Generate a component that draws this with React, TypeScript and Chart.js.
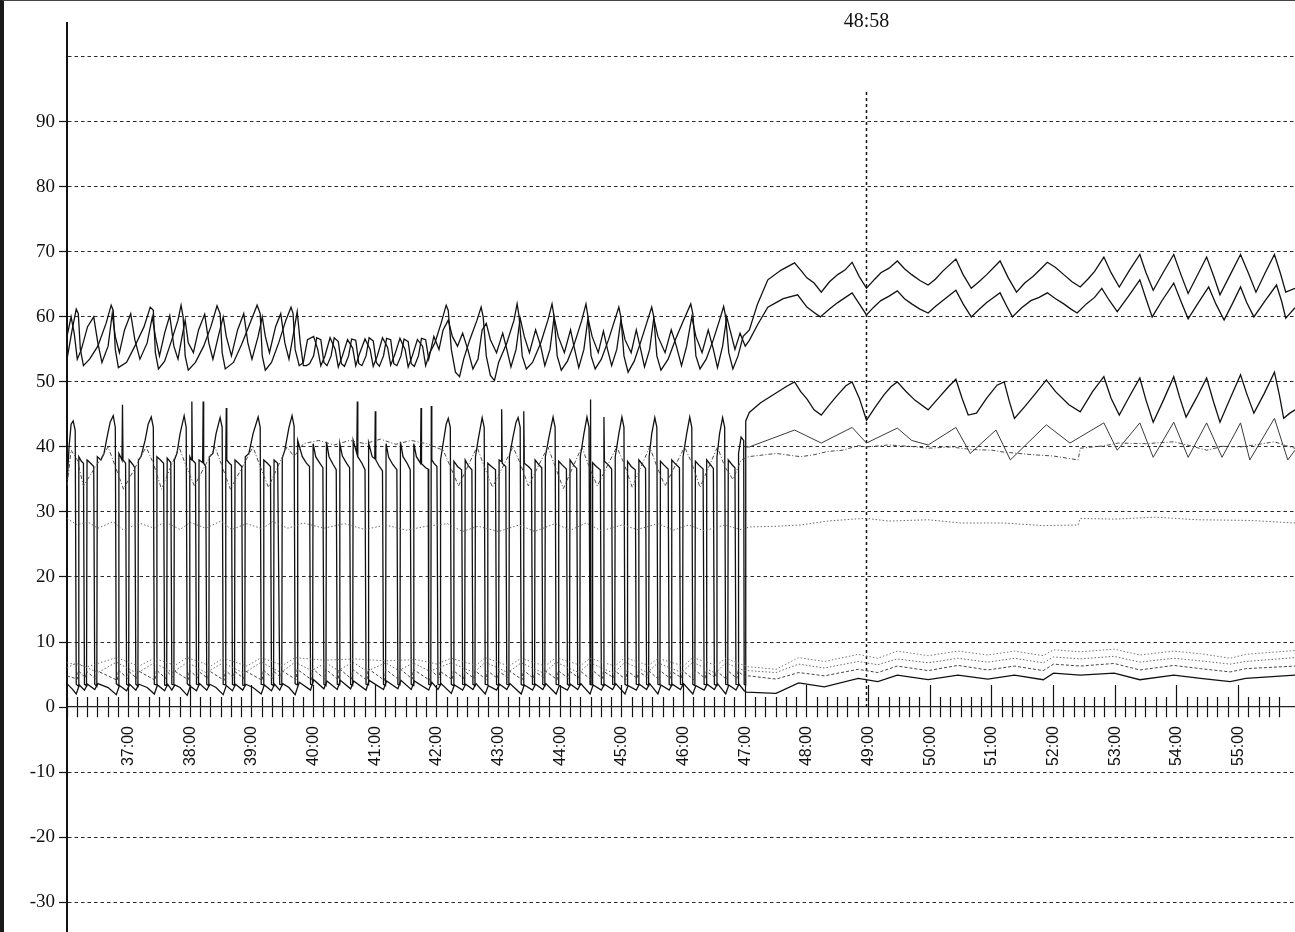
import React, { useEffect, useRef } from 'react';
import { Chart, registerables } from 'chart.js';

Chart.register(...registerables);

type P = [number, number];

// x values are seconds after 36:00
const START_MINUTE = 36;
const X_MIN = 0;
const X_MAX = 1195;
const Y_MIN = -34.6;
const Y_MAX = 105.2;
const Y_STEP = 10;
const Y_HIDDEN_LABEL = 100;
const CURSOR_SEC = 778;
const CURSOR_LABEL = '48:58';

const upperA: P[] = [
  [0,53.5],[5,58],[9,61.2],[11,60.5],[13,55],[16,52.5],[22,53.5],[30,55.5],[38,59],[43,61.8],[45,61],[47,55],[50,52.2],
  [58,53],[66,55.5],[75,58.5],[81,61.5],[84,61],[86,54.5],[89,52],[95,53.2],[101,56],[108,59.5],[111,61.8],[113,60],[115,54],[118,51.8],
  [125,53],[133,55.5],[140,58.5],[146,61.7],[149,60.5],[151,54.5],[154,52],[162,53],[170,55.8],[178,59],[185,61.8],[188,60.5],[190,54],[193,51.8],
  [199,53],[206,56],[213,59.5],[218,61.5],[220,60.5],[222,55],[226,52.5],
  [230,53],[234,56.5],[240,57],[244,55],[247,52.5],[251,54],[256,56.8],[261,55],[264,52.3],[268,54],[273,56.5],[278,55.2],[281,52.5],
  [285,54.5],[290,56.6],[295,55],[298,52.4],[302,54],[307,56.8],[312,55.3],[315,52.6],[319,54.2],[324,56.7],[329,55],[332,52.3],
  [336,54],[341,56.5],[346,55.5],[349,52.5],[353,54.5],
  [358,56],[364,59],[369,61.8],[371,61],[374,55],[378,51.5],[382,50.8],[386,53.5],[392,56.5],[399,59.5],[403,61.5],[405,60],[408,54],[412,51],[416,50.2],
  [420,53],[428,56],[435,59.5],[438,62],[440,60],[443,54],[447,52],[453,53],[461,56],[468,59.5],[472,62],[474,60],[477,54],[481,51.8],
  [487,53.2],[494,56],[501,59.5],[505,62],[507,60],[510,54],[514,52],[520,53.5],[527,56.5],[533,59.5],[537,61.5],[539,60],[542,54],[546,51.5],
  [552,53.2],[559,56.5],[565,59.5],[569,61.5],[571,60],[574,54],[578,51.8],[585,53.5],[592,56.5],[600,59.5],[607,62],[609,60.5],[612,54],[616,52],
  [622,53.5],[629,56.5],[635,59.5],[639,61.6],[641,60],[644,54.5],[648,52],[653,54],[658,57],
  [664,58],[672,62],[682,65.7],[695,67.2],[708,68.3],[714,67.2],[720,66],[727,65.2],[734,63.8],[742,65.4],[750,66.5],[757,67.2],[764,68.4],
  [771,66.2],[778,64.4],[786,65.8],[792,66.8],[800,67.5],[808,68.6],[815,67.4],[822,66.5],[830,65.6],[838,64.9],[845,65.8],[852,67],[865,68.9],
  [872,66.5],[880,64.4],[888,65.5],[895,66.5],[908,68.6],[916,66],[924,63.8],[932,65.2],[940,66.2],[947,67.3],[954,68.4],[962,67.6],[970,66.5],
  [978,65.4],[986,64.6],[994,65.9],[1000,67],[1009,69.2],[1016,66.8],[1024,64.6],[1034,67.2],[1044,69.6],[1050,66.8],[1057,64.1],[1067,66.9],
  [1077,69.6],[1084,66.5],[1091,63.6],[1100,66.4],[1109,69.2],[1116,66.2],[1122,63.4],[1132,66.5],[1142,69.6],[1150,66.6],[1157,63.8],
  [1166,66.8],[1175,69.6],[1181,66.6],[1186,63.8],[1195,64.4],
];

const upperB: P[] = [
  [0,57],[4,60],[7,57.5],[10,53.5],[14,55],[20,58.5],[26,60],[30,56],[34,53],[40,55.5],[44,60.5],[47,57],[51,54.5],[56,58],[62,60.5],[66,56.5],
  [71,53.5],[78,56],[83,60],[86,57],[90,54],[95,57.5],[100,60.2],[104,55.5],[108,53.5],[112,57],[115,59.5],[118,56],[123,54.5],[128,58],[134,60.4],
  [138,56],[142,53.5],[148,57.5],[152,60],[155,57],[160,54],[166,58],[172,60.5],[176,56],[180,53.5],[186,57],[190,60],[193,57],[197,54.5],
  [203,58.5],[208,60.5],[212,56],[216,53.5],[221,58],[224,60.8],[227,56],[230,52.5],
  [233,52.5],[236,52.8],[240,54],[243,56.8],[247,56.5],[250,53],[253,52.5],[257,54],[260,56.8],[264,56.2],[267,52.8],[270,52.4],[274,54],
  [277,56.6],[281,56.4],[284,52.8],[287,52.5],[291,54],[294,56.8],[298,56.3],[301,53],[304,52.4],[308,54],[311,56.7],[315,56.5],[318,52.8],
  [321,52.5],[325,54],[328,56.6],[332,56.2],[335,52.8],[338,52.4],[342,54],[345,56.7],[349,56.5],[352,53.5],
  [357,57],[362,55],[366,58],[371,59.5],[375,57],[380,55.5],[385,57.5],[390,55],[395,52],[400,53.5],[404,58],[408,59],[412,56.5],[418,54.5],
  [424,57.5],[428,55],[432,52.3],[437,55],[441,59.8],[445,57],[450,54.5],[456,58],[461,55.5],[465,52.5],[470,55],[474,60],[478,57],[484,54.5],
  [490,58],[494,55],[498,52.2],[503,55],[507,59.8],[511,57],[517,54.5],[522,57.8],[526,55],[530,52.5],[535,55],[539,59.5],[543,56.5],[549,54.5],
  [554,58],[558,55.2],[562,52.3],[567,55],[571,59.8],[575,57],[582,54.5],[588,58],[593,55.5],[598,52.5],[603,55.5],[608,60],[612,57],[618,54.5],
  [624,58],[629,55],[633,52.2],[638,55.5],[642,60],[646,57.5],[650,55],[655,57.5],[660,55.5],
  [664,56.4],[672,58.8],[682,61.5],[690,62.2],[697,62.8],[711,63.4],[720,61.5],[726,60.8],[733,60],[742,61.2],[750,62.2],[764,63.7],[771,62],
  [778,60.3],[785,61.5],[792,62.5],[800,63.2],[808,64],[815,62.8],[822,62],[830,61.2],[838,60.6],[845,61.6],[852,62.5],[865,64.1],[872,62],
  [880,60],[888,61.2],[895,62.2],[908,63.7],[914,61.8],[920,60],[929,61.4],[938,62.5],[946,63],[954,63.7],[962,62.8],[970,62],[977,61.2],
  [983,60.6],[992,62],[1000,63],[1007,64.4],[1014,62.6],[1022,60.8],[1033,63.2],[1044,65.7],[1050,62.8],[1056,60],[1066,62.6],[1077,65.2],
  [1084,62.4],[1091,59.7],[1101,62.2],[1111,64.6],[1118,62],[1126,59.5],[1134,62],[1142,64.6],[1148,62.2],[1155,60],[1166,62.5],[1177,64.9],
  [1182,62.4],[1186,59.8],[1195,61.4],
];

const pressureTrace: P[] = [
  [0,34],[2,40],[4,43.5],[6,44],[8,42.5],[9,3.5],[11,3.2],[11.5,38.5],[14,37.8],[16,37.5],[17,3.5],[19,3.3],[19.5,38],[23,37.5],[26,37],
  [27,3.5],[29,3.2],[29.5,38.5],[33,38],[36,39],[39,41.5],[42,43.8],[45,44.8],[47,43],[48,3.6],[50,3.3],[50.5,39],[53,38.2],[53.5,38],
  [54,46.5],[54.5,38],[57,37.5],[58,3.5],[60,3.3],[60.5,38],[64,37.3],[66,36.8],[67,3.5],[69,3.2],[69.5,38],[72,38.5],[76,41],[79,43.5],
  [82,44.6],[84,43],[85,3.5],[87,3.4],[87.5,38.5],[91,38],[94,37.5],[95,3.4],[97,3.3],[97.5,38.3],[101,37.6],[102,3.5],[104,3.4],[104.5,38],
  [107,39],[110,42],[114,44.8],[116,43],[117,3.6],[119,3.3],[119.5,38.5],[121,38],[121.5,47],[122,38],[125,37.5],[126,3.5],[128,3.4],
  [128.5,38],[132,37.6],[132.5,47],[133,37.5],[135,37],[136,3.5],[138,3.3],[138.5,38.5],[142,39],[145,42],[149,44.5],[151,43],[152,3.5],
  [154,3.4],[154.5,38],[155,46],[155.5,38],[158,37.5],[160,37.2],[161,3.5],[163,3.3],[163.5,38],[167,37.5],[170,37],[171,3.4],[173,3.3],
  [173.5,38.5],[177,39],[181,42],[186,44.6],[188,43],[189,3.5],[191,3.4],[191.5,38],[195,37.5],[198,37],[199,3.5],[201,3.3],[201.5,38],
  [205,37.5],[207,3.5],[209,3.4],[209.5,38.3],[212,39.5],[216,43],[219,44.8],[221,43.2],[222,3.6],[224,3.4],[224.5,41],
  [229,38.5],[233,37.5],[236,37],[237,3.5],[239,3.4],[239.5,40.5],[242,38.5],[246,37.5],[249,36.8],[250,3.5],[252,3.3],[252.5,40.8],
  [255,38.5],[259,37.3],[262,36.5],[263,3.5],[265,3.4],[265.5,40.5],[268,38.6],[272,37.5],[275,36.8],[276,3.5],[278,3.3],[278.5,41],
  [282,39],[282.5,47],[283,38.5],[287,37.5],[290,36.5],[291,3.5],[293,3.4],[293.5,40.6],[297,38.5],[299.5,38.2],[300,45.5],[300.5,38],
  [304,37],[307,36.3],[308,3.5],[310,3.3],[310.5,40.5],[313,38.4],[317,37.3],[321,36.5],[322,3.5],[324,3.4],[324.5,40.8],[327,38.5],
  [331,37.5],[334,36.5],[335,3.5],[337,3.3],[337.5,40.5],[340,38.5],[344,37.5],[344.5,46],[345,37.4],[349,36.8],[351.5,36.6],[352,3.5],
  [354,3.4],[354.5,46.3],[355,38],[357,37.5],[360,37],[361,3.5],[363,3.4],[363.5,38],[366,40.5],[369,43.5],[371,44.4],[373,43],[374,3.5],
  [376,3.3],[376.5,37.8],[380,37],[384,36.5],[385,3.5],[387,3.4],[387.5,38],[391,37],[394,36.5],[395,3.5],[397,3.3],[397.5,38.5],[400,41],
  [404,44.5],[406,43],[407,3.5],[409,3.4],[409.5,37.5],[413,37],[417,36.5],[418,3.5],[420,3.3],[420.5,38],[422.5,37.8],[423,45.8],
  [423.5,37.5],[427,37],[428,3.5],[430,3.4],[430.5,38.5],[434,41.5],[437,43.8],[439,44.5],[441,43],[442,3.5],[444,3.3],[444.5,45.5],
  [445,37.5],[449,37],[452,36.5],[453,3.5],[455,3.4],[455.5,38],[459,37.3],[462,36.8],[463,3.5],[465,3.3],[465.5,38.5],[469,41.5],
  [473,44.6],[475,43],[476,3.5],[478,3.4],[478.5,37.8],[482,37.2],[486,36.6],[487,3.5],[489,3.3],[489.5,38],[493,37.2],[496,36.7],
  [497,3.5],[499,3.4],[499.5,38.5],[503,42],[506,44.6],[508,43],[509,3.5],[509.5,47.3],[510,3.4],[511,3.4],[511.5,37.6],[515,37],
  [519,36.5],[520,3.5],[522,3.3],[522.5,44.6],[523,37.8],[527,37.2],[530,36.6],[531,3.5],[533,3.4],[533.5,38.5],[537,42],[540,44.6],
  [542,43],[543,3.5],[545,3.3],[545.5,37.8],[549,37],[553,36.5],[554,3.5],[556,3.4],[556.5,38],[560,37.3],[563,36.7],[564,3.5],[566,3.3],
  [566.5,38.5],[569,42],[572,44.5],[574,43],[575,3.5],[577,3.4],[577.5,37.8],[581,37.2],[585,36.6],[586,3.5],[588,3.3],[588.5,38],
  [592,37.4],[596,36.8],[597,3.5],[599,3.4],[599.5,38.5],[603,42],[606,44.6],[608,43],[609,3.5],[611,3.3],[611.5,37.8],[615,37.2],
  [619,36.6],[620,3.5],[622,3.4],[622.5,38],[626,37.3],[629,36.7],[630,3.5],[632,3.3],[632.5,38.5],[635,42],[638,44.5],[640,43],[641,3.5],
  [643,3.4],[643.5,38],[647,37.3],[650,36.8],[651,3.5],[653,3.4],[653.5,39],[656,41.5],[658.5,41],[659,3.5],[660,3.4],[660.5,44],
  [664,45.3],[675,46.8],[690,48.3],[700,49.3],[708,50],[714,48.5],[720,47.4],[727,45.7],[734,44.9],[742,46.5],[750,48],[758,49.4],[764,50],
  [771,47.5],[778,44.1],[786,46],[795,48],[802,49.3],[808,50],[816,48.6],[825,47.2],[838,45.7],[848,47.5],[858,49.3],[865,50.4],[871,47.5],
  [877,44.9],[885,45.2],[895,47.5],[905,49.5],[912,50],[917,47],[922,44.4],[932,46.2],[944,48.5],[953,50.3],[962,48.5],[975,46.5],[986,45.4],
  [998,48.5],[1009,50.8],[1016,47.5],[1024,44.9],[1034,47.8],[1044,50.6],[1050,47.2],[1057,43.8],[1067,47.2],[1077,50.8],[1083,47.5],
  [1089,44.6],[1099,47.5],[1109,50.6],[1116,46.8],[1122,43.8],[1132,47.5],[1142,51.1],[1148,48.2],[1155,45.2],[1165,48.2],[1175,51.5],
  [1180,47.8],[1184,44.4],[1190,45.2],[1195,45.7],
];

const thinTrace: P[] = [
  [660,40],[664,40],[708,42.6],[734,40.6],[764,43],[778,40.6],[808,42.9],[822,41],[838,40.3],[865,43],[879,39],[904,42.6],[918,38],
  [953,43.4],[976,40.6],[1009,43.7],[1022,39.5],[1044,43.7],[1057,38.4],[1077,43.8],[1091,38.4],[1109,43.7],[1124,38.4],[1142,43.7],
  [1151,38],[1175,44.4],[1188,38],[1195,39.5],
];

const dashTrace: P[] = [
  [0,34],[4,39.5],[10,38],[16,34],[40,40],[47,37],[55,33.5],[77,40],[84,37.5],[92,33.5],[109,40],[116,37],[124,34],[144,40],[151,37],
  [159,33.5],[181,40],[188,37],[196,33.8],[214,40],[221,38.5],[230,40.5],[245,41],[260,40.3],[275,41],[290,40.5],[305,41.2],[320,40.4],
  [335,41],[350,40.5],[366,39.5],[373,37],[381,34],[399,40],[406,37],[414,33.8],[434,40],[441,37.5],[449,34],[468,40],[475,37],[483,33.6],
  [501,40],[508,37],[516,34],[535,40],[542,37.5],[550,33.8],[567,40],[574,37],[582,34],[601,40],[608,37.5],[616,33.8],[633,40],[640,37],
  [648,35],[656,38],[663,38.5],[690,39],[714,38.5],[727,38.8],[740,39.3],[755,39.5],[770,40.2],[778,40],[800,40.3],[820,40.1],[838,39.8],
  [860,40],[880,39.6],[900,39.5],[912,39.2],[940,38.8],[960,38.6],[984,38],[986,39.8],[1010,40.2],[1023,40.6],[1050,40.5],[1077,40.8],
  [1090,40.3],[1109,39.5],[1125,40.1],[1142,40],[1160,40.4],[1175,40.8],[1186,40.2],[1195,39.8],
];

const dottedTrace: P[] = [
  [0,29],[10,28],[20,28.5],[30,27.5],[45,28.5],[55,27.2],[70,28.3],[85,27.5],[95,28.5],[110,27.3],[120,28.4],[135,27.5],[150,28.6],
  [160,27.3],[175,28.2],[190,27.4],[200,28.5],[215,27.5],[230,28.3],[250,27.5],[270,28.2],[290,27.3],[310,28],[330,27.2],[350,27.8],
  [370,28.2],[385,27],[400,27.8],[420,27],[440,28],[455,27],[475,28.2],[490,27.2],[505,28.3],[520,27.1],[540,28],[555,27.3],[575,28.2],
  [590,27.2],[605,28],[620,27.1],[640,28],[655,27.3],[665,27.7],[690,27.8],[714,28],[740,28.6],[765,28.9],[778,29],[800,28.6],[838,28.8],
  [870,28.3],[912,28.3],[950,27.9],[984,28],[986,29],[1020,28.9],[1060,29.2],[1100,28.8],[1150,28.7],[1195,28.3],
];

const baseSolid: P[] = [
  [0,3.6],[5,2.8],[9,2],[12,3.4],[17,2.6],[20,3.5],[27,2.7],[30,3.6],[40,3],[48,1.9],[51,3.3],[58,2.5],[61,3.5],[67,2.6],[70,3.5],[78,3],
  [85,2],[88,3.4],[95,2.5],[98,3.5],[102,2.6],[105,3.4],[110,3],[117,1.8],[120,3.2],[126,2.5],[129,3.6],[136,2.6],[139,3.5],[145,3],
  [152,1.9],[155,3.3],[161,2.5],[164,3.5],[171,2.6],[174,3.5],[181,3],[189,2],[192,3.4],[199,2.5],[202,3.5],[207,2.6],[210,3.6],[216,3],
  [222,1.9],[226,3.8],[237,2.6],[240,4.2],[250,2.8],[253,4],[263,2.7],[266,4.1],[276,2.8],[279,4],[291,2.6],[294,4.1],[308,2.7],[311,4],
  [322,2.8],[325,4.1],[335,2.7],[338,4],[352,2.6],[355,3.8],[361,2.7],[364,3.6],[374,2.1],[377,3.4],[385,2.6],[388,3.5],[395,2.7],[398,3.6],
  [407,2],[410,3.3],[418,2.6],[421,3.5],[428,2.7],[431,3.6],[442,2],[445,3.4],[453,2.6],[456,3.5],[463,2.7],[466,3.6],[476,2],[479,3.3],
  [487,2.6],[490,3.5],[497,2.7],[500,3.6],[509,2],[512,3.4],[520,2.6],[523,3.5],[531,2.7],[534,3.6],[543,2],[546,3.3],[554,2.6],[557,3.5],
  [564,2.7],[567,3.6],[575,2],[578,3.4],[586,2.6],[589,3.5],[597,2.7],[600,3.6],[609,2],[612,3.3],[620,2.6],[623,3.5],[630,2.7],[633,3.6],
  [641,2],[644,3.4],[651,2.6],[654,3.5],[659,2.5],[661,2.3],[690,2.1],[712,3.7],[737,3.1],[770,4.4],[789,3.9],[808,4.9],[838,4.2],[867,4.9],
  [896,4.3],[922,4.9],[950,4.2],[960,5.2],[986,4.9],[1019,5.2],[1044,4.2],[1077,4.9],[1103,4.4],[1132,3.9],[1147,4.4],[1195,4.9],
];

const baseDash: P[] = [
  [0,4.8],[10,4.3],[11,5.6],[18,4.5],[19,5.5],[28,4.3],[29,5.6],[49,4.1],[50,5.7],[59,4.4],[60,5.5],[68,4.4],[69,5.6],[86,4.1],[87,5.7],
  [96,4.4],[97,5.5],[103,4.6],[104,5.6],[118,4.2],[119,5.7],[127,4.5],[128,5.5],[137,4.4],[138,5.6],[153,4.1],[154,5.7],[162,4.5],[163,5.5],
  [172,4.4],[173,5.6],[190,4.1],[191,5.7],[200,4.4],[201,5.5],[208,4.6],[209,5.6],[223,4.2],[224,5.8],[238,4.2],[239,5.9],[251,4.3],[252,5.8],
  [264,4.2],[265,5.9],[277,4.3],[278,5.8],[292,4.1],[293,5.9],[309,4.1],[310,5.8],[323,4.2],[324,5.9],[336,4.3],[337,5.8],[353,4.1],[354,5.7],
  [362,4.5],[363,5.5],[375,4.2],[376,5.6],[386,4.4],[387,5.5],[396,4.4],[397,5.6],[408,4.2],[409,5.6],[419,4.4],[420,5.5],[429,4.5],[430,5.6],
  [443,4.2],[444,5.7],[454,4.4],[455,5.5],[464,4.5],[465,5.6],[477,4.2],[478,5.6],[488,4.4],[489,5.5],[498,4.5],[499,5.6],[510,4.2],[511,5.7],
  [521,4.4],[522,5.5],[532,4.5],[533,5.6],[544,4.2],[545,5.6],[555,4.4],[556,5.5],[565,4.5],[566,5.6],[576,4.2],[577,5.6],[587,4.4],[588,5.5],
  [598,4.5],[599,5.6],[610,4.2],[611,5.7],[621,4.4],[622,5.5],[631,4.5],[632,5.6],[642,4.2],[643,5.6],[652,4.4],[653,5.5],[660,4.6],
  [663,4.8],[690,4.3],[712,5.3],[737,4.8],[770,5.8],[789,5.3],[808,6.3],[838,5.6],[867,6.4],[896,5.7],[922,6.3],[950,5.6],[960,6.6],
  [986,6.3],[1019,6.7],[1044,5.7],[1077,6.4],[1103,5.9],[1132,5.4],[1147,5.9],[1195,6.3],
];

const baseDot1: P[] = [
  [0,6],[9,6.8],[30,5.3],[48,6.9],[68,5.2],[85,6.8],[103,5.3],[117,6.9],[135,5.3],[152,6.8],[172,5.2],[189,6.9],[208,5.3],[222,6.9],
  [238,5.6],[252,6.8],[264,5.6],[278,6.9],[292,5.5],[310,6.8],[323,5.6],[337,6.8],[353,5.5],[374,6.8],[396,5.3],[407,6.9],[429,5.3],
  [442,6.8],[464,5.2],[476,6.9],[498,5.3],[509,6.8],[532,5.2],[543,6.9],[565,5.3],[575,6.8],[598,5.3],[609,6.9],[631,5.2],[641,6.8],
  [659,5.6],[663,5.6],[690,5.3],[712,6.6],[737,6],[770,7],[789,6.5],[808,7.4],[838,6.8],[867,7.5],[896,6.9],[922,7.5],[950,6.8],[960,7.7],
  [986,7.4],[1019,7.8],[1044,6.9],[1077,7.5],[1103,7.1],[1132,6.6],[1147,7],[1195,7.6],
];

const baseDot2: P[] = [
  [0,6.8],[20,6.2],[48,7.6],[70,6.3],[85,7.5],[105,6.4],[117,7.6],[140,6.3],[152,7.5],[175,6.3],[189,7.6],[210,6.4],[222,7.6],[250,7.2],
  [280,7.4],[310,7.1],[340,7.3],[360,6.6],[374,7.5],[398,6.4],[407,7.6],[430,6.3],[442,7.5],[465,6.3],[476,7.6],[500,6.4],[509,7.5],
  [533,6.3],[543,7.6],[566,6.4],[575,7.5],[600,6.3],[609,7.6],[632,6.4],[641,7.5],[659,6.4],[663,6.2],[690,5.8],[712,7.6],[737,7],
  [770,8.1],[789,7.5],[808,8.6],[838,7.9],[867,8.6],[896,8],[922,8.6],[950,7.9],[960,8.8],[986,8.5],[1019,8.9],[1044,8],[1077,8.6],
  [1103,8.2],[1132,7.5],[1147,8.1],[1195,8.7],
];

const cursorLine: P[] = [[CURSOR_SEC, 0], [CURSOR_SEC, 95]];

const fmtMinute = (v: number) => `${START_MINUTE + v / 60}:00`;
const isMult = (v: number, m: number) => Math.abs(v / m - Math.round(v / m)) < 1e-6;

function ds(points: P[], color: string, width: number, dash: number[] = []) {
  return {
    data: points.map(([x, y]) => ({ x, y })),
    borderColor: color,
    backgroundColor: color,
    borderWidth: width,
    borderDash: dash,
    pointRadius: 0,
    fill: false,
    tension: 0,
    xAxisID: 'x',
    yAxisID: 'y',
  };
}

export default function App() {
  const ref = useRef<HTMLCanvasElement | null>(null);

  useEffect(() => {
    if (!ref.current) return;
    const zeroPad = (s: any) => { s.paddingLeft = 0; s.paddingRight = 0; s.paddingTop = 0; s.paddingBottom = 0; };
    const chart = new Chart(ref.current, {
      type: 'line',
      data: {
        datasets: [
          ds(dottedTrace, '#6a6a6a', 1, [1.5, 2]),
          ds(dashTrace, '#4a4a4a', 1, [4, 2, 1, 2]),
          ds(thinTrace, '#3a3a3a', 1),
          ds(baseDot2, '#777', 1, [1.5, 2]),
          ds(baseDot1, '#666', 1, [1.5, 2]),
          ds(baseDash, '#444', 1, [3, 2]),
          ds(baseSolid, '#111', 1.3),
          ds(upperB, '#111', 1.3),
          ds(upperA, '#111', 1.3),
          ds(pressureTrace, '#111', 1.3),
          ds(cursorLine, '#111', 1.5, [3, 3]),
        ] as any,
      },
      options: {
        animation: false,
        responsive: false,
        maintainAspectRatio: false,
        devicePixelRatio: 1,
        events: [],
        layout: { padding: { top: 23, left: 0, right: 0, bottom: 0 } },
        plugins: { legend: { display: false }, tooltip: { enabled: false }, title: { display: false } },
        elements: { point: { radius: 0 }, line: { tension: 0 } },
        scales: {
          y: {
            type: 'linear',
            position: 'left',
            min: Y_MIN,
            max: Y_MAX,
            ticks: {
              stepSize: Y_STEP,
              autoSkip: false,
              padding: 4,
              color: '#111',
              font: { family: 'Liberation Serif', size: 19 },
              callback: (v: any) => (isMult(v, Y_STEP) && v !== Y_HIDDEN_LABEL ? String(Math.round(v)) : ''),
            },
            grid: {
              color: (c: any) => (c.tick && isMult(c.tick.value, Y_STEP) && c.tick.value !== 0 ? '#2a2a2a' : 'transparent'),
              lineWidth: 1,
              drawTicks: true,
              tickLength: 8,
              tickWidth: 1.2,
              tickColor: (c: any) => (c.tick && isMult(c.tick.value, Y_STEP) && c.tick.value !== Y_HIDDEN_LABEL ? '#111' : 'transparent'),
            },
            border: { display: true, color: '#111', width: 2, dash: [3.5, 3] },
            afterFit: (s: any) => { s.width = 67; s.paddingTop = 0; s.paddingBottom = 0; },
          },
          x: {
            type: 'linear',
            axis: 'x',
            position: { y: 0 },
            min: X_MIN,
            max: X_MAX,
            ticks: {
              stepSize: 10,
              autoSkip: false,
              maxRotation: 90,
              minRotation: 90,
              padding: 9,
              color: '#111',
              font: { family: 'Liberation Sans', size: 16 },
              callback: (v: any) => (v > 0 && isMult(v, 60) ? fmtMinute(v) : ''),
            },
            grid: {
              drawOnChartArea: false,
              drawTicks: true,
              tickLength: 10,
              tickWidth: 1.2,
              tickColor: (c: any) => (c.tick && isMult(c.tick.value, 10) ? '#111' : 'transparent'),
            },
            border: { display: true, color: '#222', width: 1.2 },
            afterFit: zeroPad,
          },
          xs: {
            type: 'linear',
            axis: 'x',
            position: { y: 1.54 },
            min: X_MIN,
            max: X_MAX,
            ticks: { display: false, stepSize: 10, autoSkip: false },
            grid: {
              drawOnChartArea: false,
              drawTicks: true,
              tickLength: 10,
              tickWidth: 1.2,
              tickColor: (c: any) => (c.tick && isMult(c.tick.value, 10) ? '#111' : 'transparent'),
            },
            border: { display: false },
            afterFit: zeroPad,
          },
          xm: {
            type: 'linear',
            axis: 'x',
            position: { y: 3.4 },
            min: X_MIN,
            max: X_MAX,
            ticks: { display: false, stepSize: 60, autoSkip: false },
            grid: {
              drawOnChartArea: false,
              drawTicks: true,
              tickLength: 12,
              tickWidth: 1.2,
              tickColor: (c: any) => (c.tick && c.tick.value > 0 && isMult(c.tick.value, 60) ? '#111' : 'transparent'),
            },
            border: { display: false },
            afterFit: zeroPad,
          },
          xt: {
            type: 'linear',
            axis: 'x',
            position: { y: Y_MAX },
            min: X_MIN,
            max: X_MAX,
            afterBuildTicks: (s: any) => { s.ticks = [{ value: CURSOR_SEC }]; },
            ticks: {
              autoSkip: false,
              maxRotation: 0,
              minRotation: 0,
              padding: -13,
              color: '#111',
              font: { family: 'Liberation Serif', size: 20 },
              callback: () => CURSOR_LABEL,
            },
            grid: { display: false, drawTicks: false },
            border: { display: false },
            afterFit: zeroPad,
          },
        },
      } as any,
    });
    return () => chart.destroy();
  }, []);

  return (
    <div style={{ position: 'fixed', left: 0, top: 0, width: 1295, height: 932, background: '#fff', overflow: 'hidden' }}>
      <canvas ref={ref} width={1295} height={932} style={{ display: 'block', width: 1295, height: 932 }} />
      <div
        style={{
          position: 'absolute', left: 0, top: 0, width: 1295, height: 932, boxSizing: 'border-box',
          borderLeft: '4px solid #1a1a1a', borderTop: '1px solid #444', pointerEvents: 'none',
        }}
      />
    </div>
  );
}
